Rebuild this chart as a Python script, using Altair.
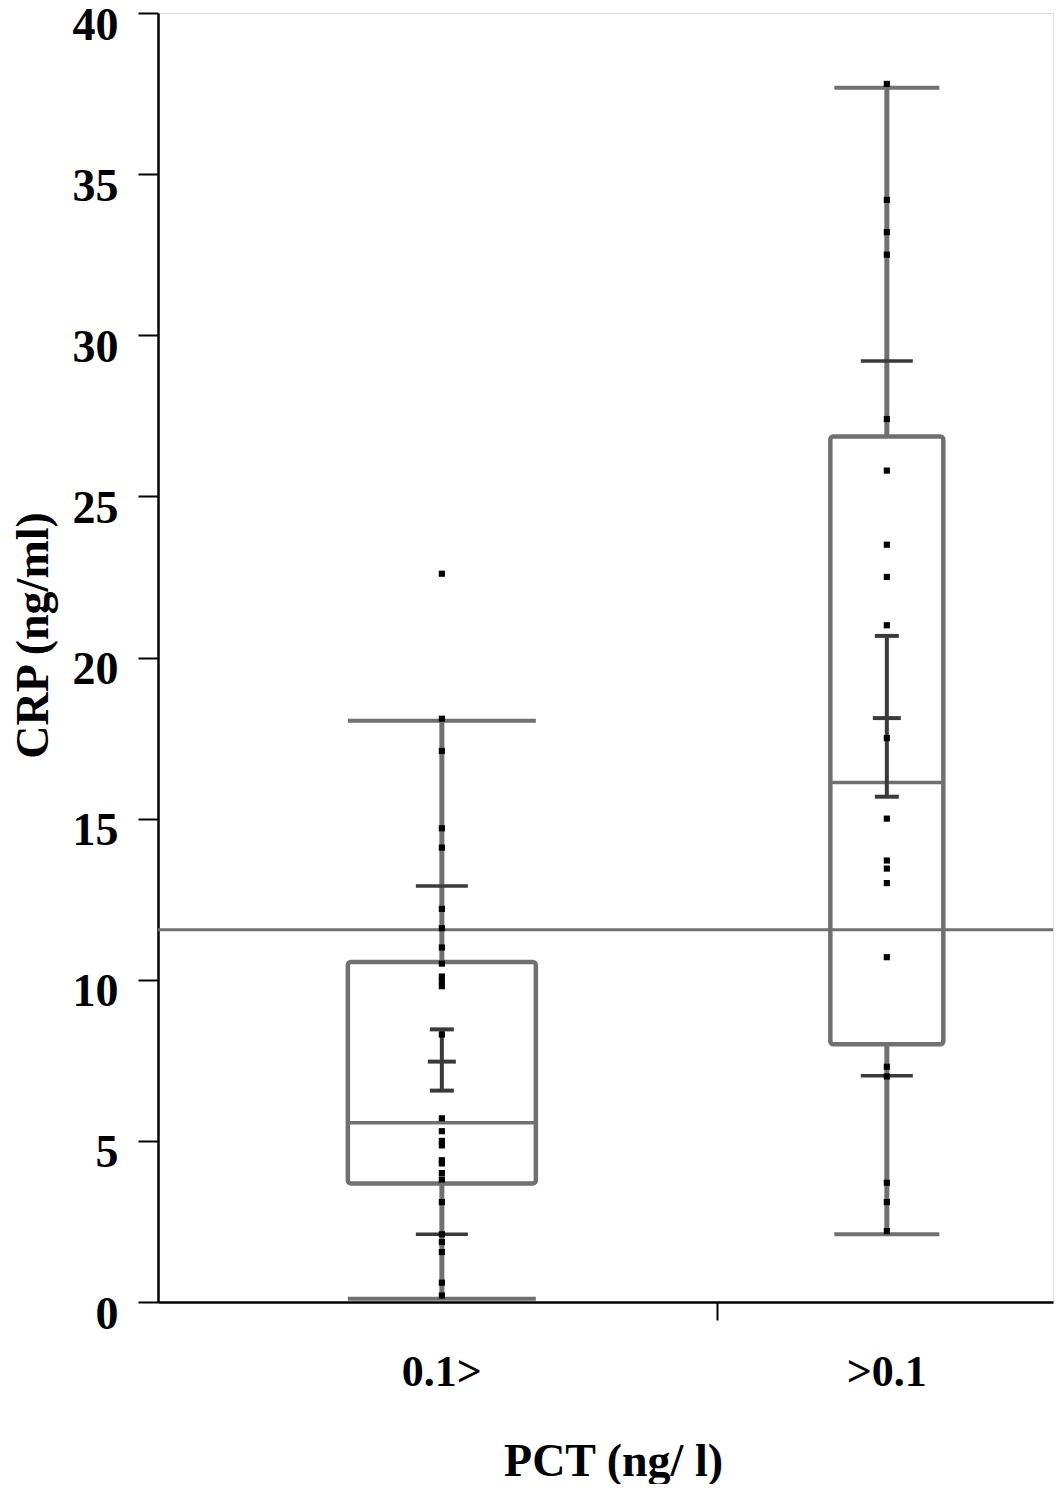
import altair as alt
import pandas as pd

# ---- data ----
groups = ["0.1>", ">0.1"]
x_pos = [1, 2]
q1 = [3.68, 8.0]
median = [5.56, 16.12]
q3 = [10.55, 26.86]
whisk_lo = [0.1, 2.1]
whisk_hi = [18.04, 37.68]
p10 = [2.1, 7.02]
p90 = [12.91, 29.2]
mean = [7.46, 18.12]
ci_lo = [6.56, 15.68]
ci_hi = [8.46, 20.67]
ref_value = 11.55
x_divider = 1.6178

dots_g1 = [22.6, 18.1, 17.1, 14.7, 14.1, 12.2, 11.6, 11.0, 10.5, 10.1, 9.95, 9.8,
           8.3, 5.7, 5.3, 5.0, 4.86, 4.4, 4.3, 4.0, 3.8, 3.1, 2.1, 1.86, 1.55, 0.6, 0.2]
dots_g2 = [37.8, 34.2, 33.2, 32.5, 27.4, 25.8, 23.5, 22.5, 21.0, 17.5, 15.0, 13.7,
           13.45, 13.0, 10.7, 7.3, 7.0, 3.7, 3.1, 2.2]

# ---- styles ----
BOX_PX = [188, 113]
CAP_PX = [188, 105]
GRAY = "#707070"
DARK = "#3a3a3a"
SERIF = "Liberation Serif"

W, H = 895, 1289
xscale = alt.Scale(domain=[0.3733, 2.3622], nice=False, zero=False)
yscale = alt.Scale(domain=[0, 40], nice=False)

summary = pd.DataFrame({
    "group": groups, "x": x_pos, "q1": q1, "median": median, "q3": q3,
    "lo": whisk_lo, "hi": whisk_hi, "p10": p10, "p90": p90,
    "mean": mean, "ci_lo": ci_lo, "ci_hi": ci_hi,
})
dots = pd.DataFrame({
    "x": [x_pos[0]] * len(dots_g1) + [x_pos[1]] * len(dots_g2),
    "y": dots_g1 + dots_g2,
})
ref = pd.DataFrame({"y": [ref_value]})

X = alt.X("x:Q", scale=xscale, axis=alt.Axis(
    values=[x_divider], labels=False, tickSize=18, tickColor="black", tickWidth=2,
    domainColor="black", domainWidth=2.5, grid=False,
    title="PCT (ng/ l)", titleFont=SERIF, titleFontSize=46, titleFontWeight="bold",
    titleColor="black", titleX=455, titleY=159, titleAlign="center",
    titleBaseline="middle"))
Y = alt.Y("y:Q", scale=yscale, axis=alt.Axis(
    values=list(range(0, 41, 5)), tickSize=20, tickColor="black", tickWidth=2,
    domainColor="black", domainWidth=2.5, grid=False,
    labelFont=SERIF, labelFontSize=46, labelFontWeight="bold", labelColor="black",
    labelPadding=20, labelBaseline="middle", labelOffset=12, labelFlush=False,
    labelOverlap=False,
    title="CRP (ng/ml)", titleFont=SERIF, titleFontSize=46, titleFontWeight="bold",
    titleColor="black", titleAngle=-90, titleX=-125, titleY=622,
    titleAlign="center", titleBaseline="middle"))

layers = []
for i in range(2):
    d = summary.iloc[[i]]
    base = alt.Chart(d)
    # whiskers (vertical)
    layers.append(base.mark_rule(color=GRAY, strokeWidth=5).encode(
        x=alt.X("x:Q", scale=xscale), y=alt.Y("q3:Q", scale=yscale), y2="hi:Q"))
    layers.append(base.mark_rule(color=GRAY, strokeWidth=5).encode(
        x=alt.X("x:Q", scale=xscale), y=alt.Y("lo:Q", scale=yscale), y2="q1:Q"))
    # whisker caps
    for col in ["hi", "lo"]:
        layers.append(base.mark_tick(orient="horizontal", size=CAP_PX[i], thickness=4,
                                     color=GRAY, opacity=1).encode(
            x=alt.X("x:Q", scale=xscale), y=alt.Y(f"{col}:Q", scale=yscale)))
    # box
    layers.append(base.mark_bar(orient="vertical", size=BOX_PX[i], fillOpacity=0,
                                stroke=GRAY, strokeWidth=4.5, cornerRadius=3).encode(
        x=alt.X("x:Q", scale=xscale), y=alt.Y("q1:Q", scale=yscale), y2="q3:Q"))
    # median
    layers.append(base.mark_tick(orient="horizontal", size=BOX_PX[i], thickness=3.5,
                                 color=GRAY, opacity=1).encode(
        x=alt.X("x:Q", scale=xscale), y=alt.Y("median:Q", scale=yscale)))
    # 10th / 90th percentile ticks
    for col in ["p10", "p90"]:
        layers.append(base.mark_tick(orient="horizontal", size=52, thickness=3.5,
                                     color=DARK, opacity=1).encode(
            x=alt.X("x:Q", scale=xscale), y=alt.Y(f"{col}:Q", scale=yscale)))
    # mean with CI
    layers.append(base.mark_rule(color=DARK, strokeWidth=4).encode(
        x=alt.X("x:Q", scale=xscale), y=alt.Y("ci_lo:Q", scale=yscale), y2="ci_hi:Q"))
    for col, sz in [("ci_lo", 24), ("ci_hi", 24), ("mean", 28)]:
        layers.append(base.mark_tick(orient="horizontal", size=sz, thickness=4,
                                     color=DARK, opacity=1).encode(
            x=alt.X("x:Q", scale=xscale), y=alt.Y(f"{col}:Q", scale=yscale)))

ref_rule = alt.Chart(ref).mark_rule(color=GRAY, strokeWidth=3).encode(
    y=alt.Y("y:Q", scale=yscale))

dot_layer = alt.Chart(dots).mark_square(size=38, color="black", opacity=1).encode(
    x=X, y=Y)

labels = alt.Chart(summary).mark_text(
    font=SERIF, fontSize=44, fontWeight="bold", color="black",
    baseline="middle", align="center").encode(
    x=alt.X("x:Q", scale=xscale), y=alt.value(1360), text="group:N")

chart = alt.layer(ref_rule, *layers, dot_layer, labels).properties(
    width=W, height=H,
    autosize=alt.AutoSizeParams(type="none"),
    padding={"left": 150, "top": 5, "right": 2, "bottom": 182},
).configure_view(stroke="black", strokeWidth=2.5).configure(background="white")

chart.save("out.html", embed_options={"renderer": "svg", "actions": False})
